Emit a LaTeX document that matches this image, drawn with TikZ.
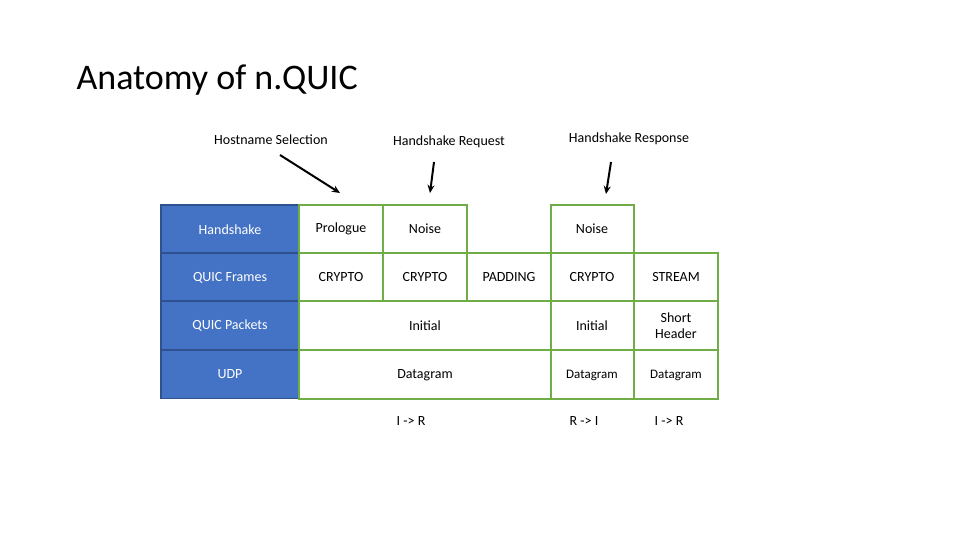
\documentclass[tikz,border=0pt]{standalone}
\usepackage{fontspec}
\setmainfont{Carlito}
\usetikzlibrary{arrows.meta}
\definecolor{bl}{HTML}{4472C4}
\definecolor{bld}{HTML}{2F528F}
\definecolor{gr}{HTML}{70AD47}
\begin{document}
\begin{tikzpicture}[x=1pt,y=-1pt,
 blue/.style={draw=bld,fill=bl,line width=1.5pt,text=white,font=\fontsize{14}{16}\selectfont},
 cell/.style={draw=gr,line width=1.5pt,font=\fontsize{14}{16}\selectfont,align=center},
 lab/.style={font=\fontsize{14}{16}\selectfont},
 arr/.style={line width=2pt,-{Stealth[length=8pt,width=7pt]}}]
\useasboundingbox (0,0) rectangle (960,540);
\node[anchor=west,font=\fontsize{36}{40}\selectfont] (title) at (73,80) {Anatomy of n.QUIC};
% blue column
\foreach \n/\t/\y in {h/Handshake/205,f/QUIC Frames/253,p/QUIC Packets/301,u/UDP/350}{
 \draw[blue] (161,\y) rectangle ++(138,48.5);
 \node[blue,draw=none,fill=none] (\n) at (230,\y+24.5) {\t};
}
% green cells
\draw[cell] (299,205) rectangle (383,253);
\draw[cell] (383,205) rectangle (467,253);
\draw[cell] (299,253) rectangle (383,301);
\draw[cell] (383,253) rectangle (467,301);
\draw[cell] (467,253) rectangle (551,301);
\draw[cell] (299,301) rectangle (551,350);
\draw[cell] (299,350) rectangle (551,399);
\draw[cell] (551,205) rectangle (634,253);
\draw[cell] (551,253) rectangle (634,301);
\draw[cell] (634,253) rectangle (718,301);
\draw[cell] (551,301) rectangle (634,350);
\draw[cell] (634,301) rectangle (718,350);
\draw[cell] (551,350) rectangle (634,399);
\draw[cell] (634,350) rectangle (718,399);
\node[lab] (prol) at (341,229) {Prologue};
\node[lab] (noise1) at (425,229) {Noise};
\node[lab] (noise2) at (592,229) {Noise};
\node[lab] at (341,277) {CRYPTO};
\node[lab] at (425,277) {CRYPTO};
\node[lab] at (509,277) {PADDING};
\node[lab] at (592,277) {CRYPTO};
\node[lab] at (676,277) {STREAM};
\node[lab] at (425,326) {Initial};
\node[lab] at (592,326) {Initial};
\node[lab,align=center] at (676,326) {Short\\Header};
\node[lab] at (425,375) {Datagram};
\node[lab,font=\fontsize{13}{15}\selectfont] at (592,375) {Datagram};
\node[lab,font=\fontsize{13}{15}\selectfont] at (676,375) {Datagram};
% headings
\node[lab] (hs) at (271,140) {Hostname Selection};
\node[lab] (hq) at (449,142) {Handshake Request};
\node[lab] (hr) at (629,139) {Handshake Response};
\coordinate (a1s) at (280,155); \coordinate (a1e) at (340,193);
\coordinate (a2s) at (434,162); \coordinate (a2e) at (430,193);
\coordinate (a3s) at (611,162); \coordinate (a3e) at (606,194);
\draw[arr] (a1s) -- (a1e);
\draw[arr] (a2s) -- (a2e);
\draw[arr] (a3s) -- (a3e);
\node[lab] (d1) at (411,421) {I -> R};
\node[lab] (d2) at (584,421) {R -> I};
\node[lab] (d3) at (669,421) {I -> R};
\end{tikzpicture}
\end{document}
